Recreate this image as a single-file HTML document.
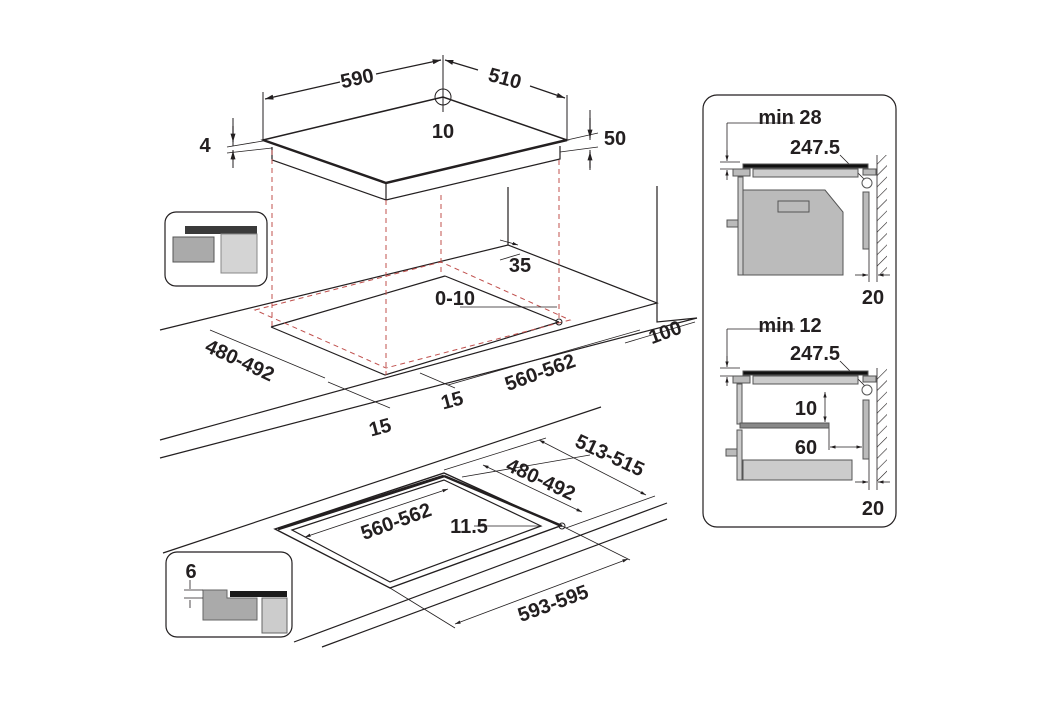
<!DOCTYPE html>
<html><head><meta charset="utf-8"><style>
html,body{margin:0;padding:0;background:#fff;}
svg{display:block}
text{font-family:"Liberation Sans",sans-serif;font-weight:bold;fill:#231f20;font-size:20px}
</style></head><body>
<svg width="1038" height="728" viewBox="0 0 1038 728" xmlns="http://www.w3.org/2000/svg">
<defs>
<marker id="a" viewBox="0 0 10 10" refX="10" refY="5" markerWidth="7" markerHeight="7" orient="auto-start-reverse"><path d="M0,2 L10,5 L0,8z" fill="#231f20"/></marker>
<pattern id="h" width="8" height="8" patternUnits="userSpaceOnUse" patternTransform="rotate(45)"><line x1="0" y1="0" x2="0" y2="8" stroke="#231f20" stroke-width="1.2"/></pattern>
</defs>
<g stroke="#231f20" fill="none" stroke-width="1.2">
<path d="M263,140 L443,97 L567,140 L386,183 Z" stroke-width="1.5"/>
<path d="M263,140 L386,183 L567,140" stroke-width="2.5"/>
<path d="M272,147 L272,160 L386,200 L560,159 L560,146 M386,183 L386,200"/>
<path d="M160,330 L508,245 L657,303 L160,440"/>
<path d="M160,458 L697,318"/>
<path d="M508,187 L508,245 M657,186 L657,322 L697,318"/>
<path d="M271,327 L445,276 M271,327 L385,375 L559,322"/>
<path d="M445,276 L559,322"/>
<g stroke="#c0504d" stroke-dasharray="5,4" stroke-width="1">
<path d="M272,150 V327 M386,200 V375 M441,195 V275 M559,160 V322"/>
<path d="M255,310 L441,262 L570,320 L386,368 Z"/>
</g>
<path d="M263,92 V140 M567,95 V140 M443,55 V112 M233,118 V146 M233,168 V150 M590,110 V140 M590,170 V150" stroke-width="1"/>
<line x1="265" y1="99" x2="340" y2="82" marker-start="url(#a)"/>
<line x1="376" y1="74" x2="441" y2="60" marker-end="url(#a)"/>
<line x1="445" y1="60" x2="478" y2="70" marker-start="url(#a)"/>
<line x1="530" y1="86" x2="565" y2="98" marker-end="url(#a)"/>
<line x1="233" y1="126" x2="233" y2="142" marker-end="url(#a)"/>
<line x1="233" y1="160" x2="233" y2="151" marker-end="url(#a)"/>
<line x1="590" y1="118" x2="590" y2="138" marker-end="url(#a)"/>
<line x1="590" y1="168" x2="590" y2="152" marker-end="url(#a)"/>
<path d="M227,147 L263,141 M227,153 L272,148 M567,140 L598,133 M560,152 L598,147" stroke-width="0.8"/>
<circle cx="443" cy="97" r="8" stroke-width="1"/>
<path d="M210,330 L325,378 M328,382 L390,408 M420,373 L455,388 M448,385 L640,330 M625,343 L695,322 M460,307 L557,307" stroke-width="0.8"/>
<line x1="500" y1="240" x2="518" y2="245" marker-end="url(#a)" stroke-width="0.8"/>
<line x1="520" y1="254" x2="500" y2="260" stroke-width="0.8"/>
<circle cx="559" cy="322" r="3" stroke-width="1"/>
<!-- lower counter -->
<path d="M163,553 L601,407 M294,642 L667,503 M322,647 L667,519"/>
<path d="M275,529 L444,473 L560,526 L390,588 Z" stroke-width="1.4"/>
<path d="M278,529 L444,476" stroke-width="3"/>
<path d="M444,476 L562,526" stroke-width="2.5"/>
<path d="M292,530 L444,480 L541,526 L390,582 Z"/>
<path d="M444,470 L546,438 M462,477 L590,455 M566,528 L655,496 M390,588 L455,628 M562,526 L630,560 M474,526 L540,526" stroke-width="0.8"/>
<line x1="539" y1="440" x2="646" y2="495" marker-start="url(#a)" marker-end="url(#a)" stroke-width="0.8"/>
<line x1="483" y1="465" x2="582" y2="512" marker-start="url(#a)" marker-end="url(#a)" stroke-width="0.8"/>
<line x1="305" y1="537" x2="448" y2="489" marker-start="url(#a)" marker-end="url(#a)" stroke-width="0.8"/>
<line x1="455" y1="624" x2="628" y2="559" marker-start="url(#a)" marker-end="url(#a)" stroke-width="0.8"/>
<circle cx="562" cy="526" r="3" stroke-width="1"/>
<rect x="165" y="212" width="102" height="74" rx="11"/>
<rect x="166" y="552" width="126" height="85" rx="11"/>
<rect x="703" y="95" width="193" height="432" rx="14"/>
</g>
<rect x="185" y="226" width="72" height="8" fill="#3a3a3a"/>
<rect x="173" y="237" width="41" height="25" fill="#aaa" stroke="#555"/>
<rect x="221" y="234" width="36" height="39" fill="#d4d4d4" stroke="#888"/>
<rect x="230" y="591" width="57" height="6" fill="#1a1a1a"/>
<path d="M203,590 H227 V598 H257 V620 H203 Z" fill="#aaa" stroke="#666"/>
<rect x="262" y="598" width="25" height="35" fill="#ccc" stroke="#666"/>
<g stroke="#231f20" stroke-width="0.8"><path d="M184,590 H203 M184,598 H203 M190,580 V589 M190,600 V608"/></g>
<g stroke="#231f20" stroke-width="0.8" fill="none">
<path d="M727,123 H795 M727,123 V160 M720,162 H740 M720,169 H733 M840,155 L865,180"/>
<path d="M727,329 H795 M727,329 V366 M720,368 H740 M720,376 H733 M840,361 L865,386"/>
<path d="M869,249 V282 M877,155 V282 M869,459 V490 M877,368 V490 M829,428 V450"/>
</g>
<rect x="877" y="155" width="10" height="120" fill="url(#h)"/>
<rect x="877" y="368" width="10" height="114" fill="url(#h)"/>
<g stroke="#555" stroke-width="1">
<rect x="743" y="164" width="125" height="4" fill="#111"/>
<rect x="733" y="169" width="17" height="7" fill="#bbb"/>
<rect x="753" y="169" width="105" height="8" fill="#ccc"/>
<rect x="863" y="169" width="13" height="6" fill="#bbb"/>
<circle cx="867" cy="183" r="5" fill="#fff"/>
<rect x="738" y="177" width="5" height="98" fill="#ccc"/>
<path d="M743,190 H825 L843,212 V275 H743 Z" fill="#bbb"/>
<rect x="778" y="201" width="31" height="11" fill="#bbb"/>
<rect x="727" y="220" width="11" height="7" fill="#bbb"/>
<rect x="863" y="192" width="6" height="57" fill="#bbb"/>
<rect x="743" y="371" width="125" height="4" fill="#111"/>
<rect x="733" y="376" width="17" height="7" fill="#bbb"/>
<rect x="753" y="376" width="105" height="8" fill="#ccc"/>
<rect x="863" y="376" width="13" height="6" fill="#bbb"/>
<circle cx="867" cy="390" r="5" fill="#fff"/>
<rect x="737" y="384" width="5" height="40" fill="#ccc"/>
<rect x="740" y="423" width="89" height="5" fill="#888"/>
<rect x="737" y="430" width="5" height="50" fill="#ccc"/>
<rect x="743" y="460" width="109" height="20" fill="#ccc"/>
<rect x="726" y="449" width="11" height="7" fill="#bbb"/>
<rect x="863" y="400" width="6" height="59" fill="#bbb"/>
</g>
<g stroke="#231f20" stroke-width="0.8">
<line x1="727" y1="150" x2="727" y2="161" marker-end="url(#a)"/>
<line x1="727" y1="180" x2="727" y2="170" marker-end="url(#a)"/>
<line x1="727" y1="356" x2="727" y2="367" marker-end="url(#a)"/>
<line x1="727" y1="386" x2="727" y2="377" marker-end="url(#a)"/>
<line x1="855" y1="275" x2="868" y2="275" marker-end="url(#a)"/>
<line x1="890" y1="275" x2="878" y2="275" marker-end="url(#a)"/>
<line x1="855" y1="482" x2="868" y2="482" marker-end="url(#a)"/>
<line x1="890" y1="482" x2="878" y2="482" marker-end="url(#a)"/>
<line x1="825" y1="392" x2="825" y2="422" marker-start="url(#a)" marker-end="url(#a)"/>
<line x1="830" y1="447" x2="862" y2="447" marker-start="url(#a)" marker-end="url(#a)"/>
</g>
<text x="357" y="85" text-anchor="middle" transform="rotate(-12 357 78)">590</text>
<text x="505" y="85" text-anchor="middle" transform="rotate(15 505 78)">510</text>
<text x="443" y="138" text-anchor="middle">10</text>
<text x="205" y="152" text-anchor="middle">4</text>
<text x="615" y="145" text-anchor="middle">50</text>
<text x="520" y="272" text-anchor="middle">35</text>
<text x="455" y="305" text-anchor="middle">0-10</text>
<text x="240" y="367" text-anchor="middle" transform="rotate(25 240 360)">480-492</text>
<text x="540" y="379" text-anchor="middle" transform="rotate(-20 540 372)">560-562</text>
<text x="665" y="339" text-anchor="middle" transform="rotate(-20 665 332)">100</text>
<text x="380" y="434" text-anchor="middle" transform="rotate(-15 380 427)">15</text>
<text x="452" y="407" text-anchor="middle" transform="rotate(-15 452 400)">15</text>
<text x="396" y="528" text-anchor="middle" transform="rotate(-20 396 521)">560-562</text>
<text x="469" y="533" text-anchor="middle">11.5</text>
<text x="541" y="486" text-anchor="middle" transform="rotate(25 541 479)">480-492</text>
<text x="610" y="462" text-anchor="middle" transform="rotate(25 610 455)">513-515</text>
<text x="553" y="610" text-anchor="middle" transform="rotate(-20 553 603)">593-595</text>
<text x="191" y="578" text-anchor="middle">6</text>
<text x="790" y="124" text-anchor="middle">min 28</text>
<text x="815" y="154" text-anchor="middle">247.5</text>
<text x="873" y="304" text-anchor="middle">20</text>
<text x="790" y="332" text-anchor="middle">min 12</text>
<text x="815" y="360" text-anchor="middle">247.5</text>
<text x="806" y="415" text-anchor="middle">10</text>
<text x="806" y="454" text-anchor="middle">60</text>
<text x="873" y="515" text-anchor="middle">20</text>
</svg>
</body></html>
